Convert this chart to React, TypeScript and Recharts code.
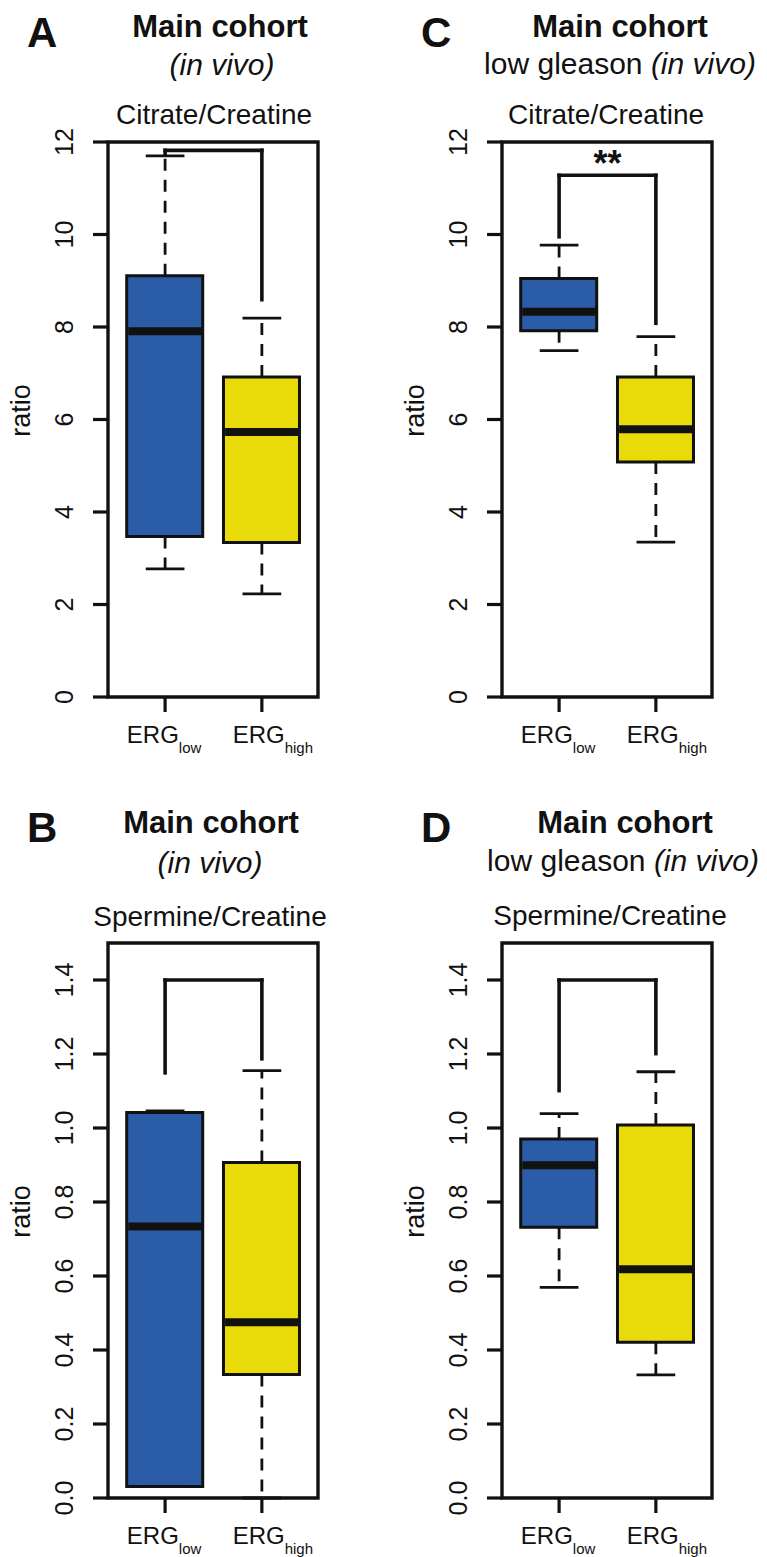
import React from 'react';
import { ComposedChart, Bar, Cell, XAxis, YAxis, ReferenceLine, ReferenceArea } from 'recharts';

// ---------- data ----------
const groups = ['low', 'high'];
const groupPos = [1, 2];

// Panel A: Main cohort, Citrate/Creatine
const aMin = [2.77, 2.23];
const aQ1 = [3.47, 3.34];
const aMed = [7.91, 5.73];
const aQ3 = [9.11, 6.92];
const aMax = [11.7, 8.19];
const aBracket = [11.72, 11.82, 8.59]; // left end, top, right end

// Panel C: low gleason, Citrate/Creatine
const cMin = [7.49, 3.35];
const cQ1 = [7.92, 5.08];
const cMed = [8.33, 5.79];
const cQ3 = [9.05, 6.92];
const cMax = [9.77, 7.79];
const cBracket = [9.95, 11.28, 8.08];

// Panel B: Main cohort, Spermine/Creatine
const bMin = [0.031, 0.0];
const bQ1 = [0.031, 0.334];
const bMed = [0.734, 0.475];
const bQ3 = [1.042, 0.907];
const bMax = [1.046, 1.155];
const bBracket = [1.149, 1.4, 1.187];

// Panel D: low gleason, Spermine/Creatine
const dMin = [0.569, 0.333];
const dQ1 = [0.732, 0.421];
const dMed = [0.899, 0.618];
const dQ3 = [0.97, 1.008];
const dMax = [1.039, 1.152];
const dBracket = [1.101, 1.4, 1.201];

const citrateTicks = [0, 2, 4, 6, 8, 10, 12];
const spermineTicks = [0, 0.2, 0.4, 0.6, 0.8, 1.0, 1.2, 1.4];
const citrateDomain = [0, 12];
const spermineDomain = [0, 1.5];
const xDomain = [0.41, 2.58];

// ---------- style ----------
const FONT = '"Liberation Sans", Arial, Helvetica, sans-serif';
const INK = '#111111';
const FILLS = ['#2B5CA8', '#E9DB0A'];
const LABEL_SHIFT = [-1, 11];
const HALF_BOX = 0.4;
const HALF_CAP = 0.2;

const YTick = (props: any) => {
  const { x, y, payload, digits } = props;
  return (
    <text
      x={x}
      y={y}
      transform={`rotate(-90 ${x} ${y})`}
      textAnchor="middle"
      fontSize={25}
      fill={INK}
      fontFamily={FONT}
    >
      {Number(payload.value).toFixed(digits)}
    </text>
  );
};

const XTick = (props: any) => {
  const { x, y, payload } = props;
  const i = groupPos.indexOf(payload.value);
  return (
    <text x={x + LABEL_SHIFT[i]} y={y + 31} textAnchor="middle" fontSize={24} fill={INK} fontFamily={FONT}>
      ERG
      <tspan fontSize={15} dy={10}>
        {groups[i]}
      </tspan>
    </text>
  );
};

type PanelProps = {
  min: number[];
  q1: number[];
  med: number[];
  q3: number[];
  max: number[];
  bracket: number[];
  sig: string;
  yDomain: number[];
  yTicks: number[];
  digits: number;
  left: number;
  top: number;
};

const Panel = ({ min, q1, med, q3, max, bracket, sig, yDomain, yTicks, digits, left, top }: PanelProps) => {
  const rows = groupPos.map((p, i) => ({ pos: p, iqr: [q1[i], q3[i]] }));
  const whisker = { stroke: INK, strokeWidth: 2.8, strokeDasharray: '12 9', ifOverflow: 'visible' as const };
  const solid = { stroke: INK, strokeWidth: 2.8, ifOverflow: 'visible' as const };
  const br = { stroke: INK, strokeWidth: 3.6, strokeLinecap: 'square' as const, ifOverflow: 'visible' as const };
  return (
    <div style={{ position: 'absolute', left, top, width: 383, height: 778 }}>
      <ComposedChart width={383} height={778} data={rows} margin={{ top: 142, right: 65, bottom: 21, left: 0 }}>
        <XAxis
          dataKey="pos"
          type="number"
          domain={xDomain}
          allowDataOverflow
          ticks={groupPos}
          axisLine={false}
          tickLine={{ stroke: INK, strokeWidth: 3.2 }}
          tickSize={15}
          tickMargin={0}
          height={60}
          tick={<XTick />}
        />
        <YAxis
          type="number"
          domain={yDomain}
          allowDataOverflow
          ticks={yTicks}
          width={108}
          axisLine={false}
          tickLine={{ stroke: INK, strokeWidth: 3.2 }}
          tickSize={15}
          tickMargin={20}
          tick={<YTick digits={digits} />}
          label={(p: any) => {
            const vb = p.viewBox || { x: 0, y: 142, width: 108, height: 555 };
            const lx = vb.x + 30;
            const ly = vb.y + vb.height / 2 - 9;
            return (
              <text
                x={lx}
                y={ly}
                transform={`rotate(-90 ${lx} ${ly})`}
                textAnchor="middle"
                fontSize={27}
                fill={INK}
                fontFamily={FONT}
              >
                ratio
              </text>
            );
          }}
        />
        <ReferenceArea
          x1={xDomain[0]}
          x2={xDomain[1]}
          y1={yDomain[0]}
          y2={yDomain[1]}
          fill="none"
          fillOpacity={0}
          stroke={INK}
          strokeWidth={3.4}
          ifOverflow="visible"
        />
        <Bar dataKey="iqr" barSize={76} stroke={INK} strokeWidth={3} isAnimationActive={false}>
          {rows.map((r, i) => (
            <Cell key={r.pos} fill={FILLS[i]} />
          ))}
        </Bar>
        {groupPos.map((p, i) => (
          <React.Fragment key={p}>
            <ReferenceLine segment={[{ x: p, y: q3[i] }, { x: p, y: max[i] }]} {...whisker} />
            <ReferenceLine segment={[{ x: p, y: q1[i] }, { x: p, y: min[i] }]} {...whisker} />
            <ReferenceLine segment={[{ x: p - HALF_CAP, y: max[i] }, { x: p + HALF_CAP, y: max[i] }]} {...solid} />
            <ReferenceLine segment={[{ x: p - HALF_CAP, y: min[i] }, { x: p + HALF_CAP, y: min[i] }]} {...solid} />
            <ReferenceLine
              segment={[{ x: p - HALF_BOX + 0.02, y: med[i] }, { x: p + HALF_BOX - 0.02, y: med[i] }]}
              stroke={INK}
              strokeWidth={8}
              ifOverflow="visible"
            />
          </React.Fragment>
        ))}
        <ReferenceLine segment={[{ x: groupPos[0], y: bracket[0] }, { x: groupPos[0], y: bracket[1] }]} {...br} />
        <ReferenceLine
          segment={[{ x: groupPos[0], y: bracket[1] }, { x: groupPos[1], y: bracket[1] }]}
          {...br}
          label={(lp: any) => {
            if (!sig) return null;
            const vb = lp.viewBox;
            return (
              <text
                x={vb.x + vb.width / 2}
                y={vb.y + 1}
                textAnchor="middle"
                fontSize={36}
                fontWeight="bold"
                fill={INK}
                fontFamily={FONT}
              >
                {sig}
              </text>
            );
          }}
        />
        <ReferenceLine segment={[{ x: groupPos[1], y: bracket[1] }, { x: groupPos[1], y: bracket[2] }]} {...br} />
      </ComposedChart>
    </div>
  );
};

const T = (p: any) => (
  <text
    x={p.x}
    y={p.y}
    textAnchor={p.anchor || 'middle'}
    fontSize={p.size}
    fontWeight={p.bold ? 'bold' : 'normal'}
    fontStyle={p.italic ? 'italic' : 'normal'}
    fill={INK}
    fontFamily={FONT}
  >
    {p.children}
  </text>
);

const Titles = () => (
  <svg width={767} height={1557} style={{ position: 'absolute', left: 0, top: 0, pointerEvents: 'none' }}>
    {/* A */}
    <T x={27} y={47} size={42} bold anchor="start">A</T>
    <T x={220} y={37} size={31} bold>Main cohort</T>
    <T x={222} y={75} size={30} italic>(in vivo)</T>
    <T x={214} y={124} size={28}>Citrate/Creatine</T>
    {/* C */}
    <T x={421} y={47} size={42} bold anchor="start">C</T>
    <T x={620} y={37} size={31} bold>Main cohort</T>
    <text x={620} y={74} textAnchor="middle" fontSize={30} fill={INK} fontFamily={FONT}>
      low gleason <tspan fontStyle="italic">(in vivo)</tspan>
    </text>
    <T x={606} y={124} size={28}>Citrate/Creatine</T>
    {/* B */}
    <T x={27} y={842} size={42} bold anchor="start">B</T>
    <T x={211} y={833} size={31} bold>Main cohort</T>
    <T x={210} y={873} size={30} italic>(in vivo)</T>
    <T x={210} y={926} size={28}>Spermine/Creatine</T>
    {/* D */}
    <T x={421} y={842} size={42} bold anchor="start">D</T>
    <T x={625} y={833} size={31} bold>Main cohort</T>
    <text x={623} y={871} textAnchor="middle" fontSize={30} fill={INK} fontFamily={FONT}>
      low gleason <tspan fontStyle="italic">(in vivo)</tspan>
    </text>
    <T x={610} y={925} size={28}>Spermine/Creatine</T>
  </svg>
);

export default function App() {
  return (
    <div
      style={{
        position: 'absolute',
        left: 0,
        top: 0,
        width: 767,
        height: 1557,
        overflow: 'hidden',
        background: '#ffffff',
        fontFamily: FONT,
      }}
    >
      <Panel min={aMin} q1={aQ1} med={aMed} q3={aQ3} max={aMax} bracket={aBracket} sig=""
        yDomain={citrateDomain} yTicks={citrateTicks} digits={0} left={0} top={0} />
      <Panel min={cMin} q1={cQ1} med={cMed} q3={cQ3} max={cMax} bracket={cBracket} sig="**"
        yDomain={citrateDomain} yTicks={citrateTicks} digits={0} left={394} top={0} />
      <Panel min={bMin} q1={bQ1} med={bMed} q3={bQ3} max={bMax} bracket={bBracket} sig=""
        yDomain={spermineDomain} yTicks={spermineTicks} digits={1} left={0} top={801} />
      <Panel min={dMin} q1={dQ1} med={dMed} q3={dQ3} max={dMax} bracket={dBracket} sig=""
        yDomain={spermineDomain} yTicks={spermineTicks} digits={1} left={394} top={801} />
      <Titles />
    </div>
  );
}
